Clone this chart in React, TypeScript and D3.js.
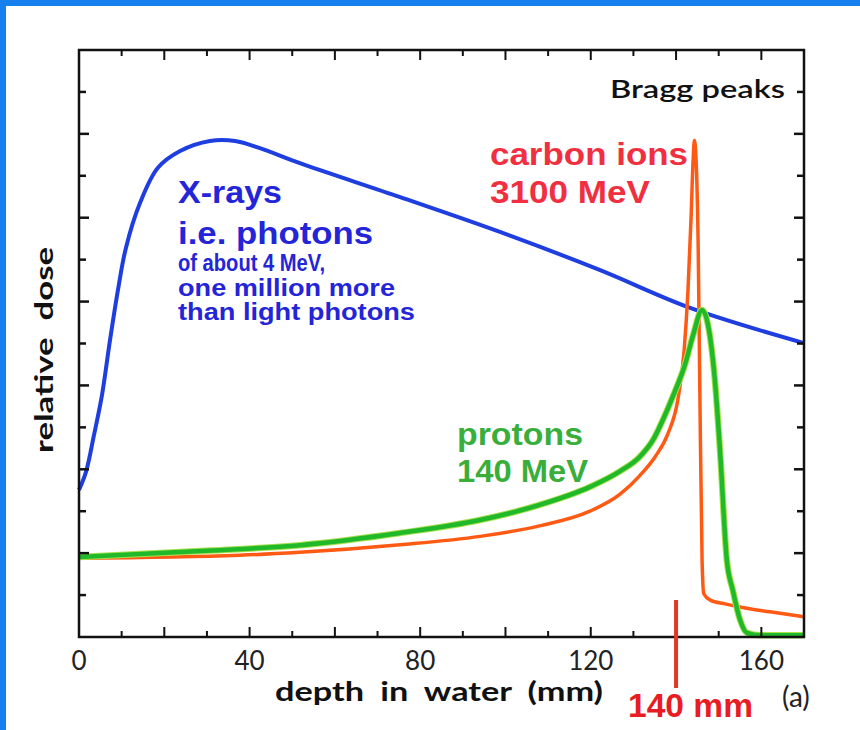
import React from "react";
import * as d3 from "d3";

// ---- data ----
const xrayDepth = [0, 1.64, 3.52, 5.39, 7.27, 9.14, 11.0, 14.3, 18.5, 23.7, 30.7, 36.6, 42.4, 51.8, 75.3, 98.7, 122.2, 143.3, 170];
const xrayDose = [3.51, 3.94, 4.82, 5.77, 7.08, 8.28, 9.28, 10.35, 11.19, 11.59, 11.83, 11.83, 11.66, 11.3, 10.49, 9.66, 8.75, 7.85, 7.01];

const protonDepth = [0, 28.6, 51.8, 75.3, 94, 108, 119.8, 126.8, 131.5, 134.6, 137, 139.3, 142.1, 144, 146.1, 147.5, 149.1, 150.3, 151.9, 153.3, 155, 156.6, 159.7, 170];
const protonDose = [1.91, 2.05, 2.19, 2.48, 2.79, 3.15, 3.58, 3.95, 4.3, 4.7, 5.2, 5.75, 6.5, 7.2, 7.8, 7.44, 6.13, 4.46, 1.84, 1.12, 0.41, 0.1, 0.04, 0.04];

const carbonDepth = [0, 37.7, 51.8, 75.3, 94, 108, 119.8, 126.8, 131.5, 135.1, 138.1, 140.4, 141.9, 142.8, 143.5, 144, 144.3, 144.7, 145.2, 145.6, 146.1, 146.5, 148, 151.5, 156.2, 162, 170];
const carbonDose = [1.88, 1.95, 2.02, 2.2, 2.4, 2.65, 3.0, 3.4, 3.85, 4.3, 4.85, 5.65, 6.84, 8.28, 9.95, 11.38, 11.85, 11.38, 9.23, 5.65, 1.84, 1.03, 0.88, 0.79, 0.69, 0.6, 0.48];

const xTickLabels = [0, 40, 80, 120, 160];
const xMinorTicks = d3.range(10, 170, 10);
const yTicks = d3.range(1, 14, 1);
const markerDepth = 140;

const W = 860;
const H = 730;
const left = 79;
const right = 804;
const top = 50;
const bottom = 637;

export default function App() {
  const x = d3.scaleLinear().domain([0, 170]).range([left, right]);
  const y = d3.scaleLinear().domain([0, 14]).range([bottom, top]);

  const line = (xs: number[], ys: number[], curve: d3.CurveFactory) =>
    d3
      .line<number>()
      .x((_, i) => x(xs[i]))
      .y((d) => y(d))
      .curve(curve)(ys) as string;

  const xray = line(xrayDepth, xrayDose, d3.curveCatmullRom.alpha(0.5));
  const proton = line(protonDepth, protonDose, d3.curveMonotoneX);
  const carbon = line(carbonDepth, carbonDose, d3.curveMonotoneX);

  const arial = "'Liberation Sans', Arial, sans-serif";
  const lato = "Lato, 'Open Sans', sans-serif";

  return (
    <svg width={W} height={H} style={{ position: "absolute", left: 0, top: 0 }}>
      <rect x={0} y={0} width={W} height={H} fill="#ffffff" />
      <rect x={0} y={0} width={W} height={6} fill="#1681ee" />
      <rect x={0} y={0} width={6} height={H} fill="#1681ee" />

      {/* curves */}
      <path d={xray} fill="none" stroke="#1f3ee0" strokeWidth={4} strokeLinejoin="round" />
      <path d={carbon} fill="none" stroke="#ff5a14" strokeWidth={3.5} strokeLinejoin="round" />
      <path d={proton} fill="none" stroke="#a8e050" strokeWidth={6.5} strokeLinejoin="round" />
      <path d={proton} fill="none" stroke="#1fb92a" strokeWidth={4.5} strokeLinejoin="round" />

      {/* frame */}
      <rect x={left} y={top} width={right - left} height={bottom - top} fill="none" stroke="#111" strokeWidth={2.5} />

      {/* x ticks bottom & top */}
      {xMinorTicks.map((t) => {
        const len = t % 20 === 0 ? 10 : 6;
        return (
          <g key={"xt" + t}>
            <line x1={x(t)} x2={x(t)} y1={bottom} y2={bottom - len} stroke="#111" strokeWidth={2} />
            <line x1={x(t)} x2={x(t)} y1={top} y2={top + len} stroke="#111" strokeWidth={2} />
          </g>
        );
      })}
      {/* y ticks left & right */}
      {yTicks.map((t) => {
        const len = t % 2 === 0 ? 10 : 7;
        return (
          <g key={"yt" + t}>
            <line x1={left} x2={left + len} y1={y(t)} y2={y(t)} stroke="#111" strokeWidth={2.5} />
            <line x1={right} x2={right - len} y1={y(t)} y2={y(t)} stroke="#111" strokeWidth={2.5} />
          </g>
        );
      })}

      {/* x tick labels */}
      {xTickLabels.map((t) => (
        <text key={"xl" + t} x={x(t)} y={670} textAnchor="middle" fontFamily={lato} fontSize={26} fill="#222">
          {t}
        </text>
      ))}

      {/* axis titles */}
      <text x={275} y={701} fontFamily={lato} fontWeight={700} fontSize={26} fill="#111" wordSpacing={6} textLength={328} lengthAdjust="spacingAndGlyphs">
        depth in water (mm)
      </text>
      <text
        transform="translate(53,350) rotate(-90)"
        textAnchor="middle"
        fontFamily={lato}
        fontWeight={700}
        fontSize={24}
        fill="#111"
        wordSpacing={6}
        textLength={206}
        lengthAdjust="spacingAndGlyphs"
      >
        relative dose
      </text>
      <text x={782} y={707} fontFamily={lato} fontSize={28} fill="#222">
        (a)
      </text>

      {/* 140 mm marker */}
      <line x1={x(markerDepth)} x2={x(markerDepth)} y1={600} y2={688} stroke="#e33424" strokeWidth={4} />
      <text x={628} y={717} fontFamily={arial} fontWeight={700} fontSize={34} fill="#e81c24" textLength={125} lengthAdjust="spacingAndGlyphs">
        140 mm
      </text>

      {/* annotations */}
      <text x={785} y={98} textAnchor="end" fontFamily={lato} fontWeight={600} fontSize={24} fill="#111" textLength={175} lengthAdjust="spacingAndGlyphs">
        Bragg peaks
      </text>

      <text x={490} y={165} fontFamily={arial} fontWeight={700} fontSize={31} fill="#f03040" textLength={198} lengthAdjust="spacingAndGlyphs">
        carbon ions
      </text>
      <text x={490} y={203} fontFamily={arial} fontWeight={700} fontSize={31} fill="#f03040" textLength={160} lengthAdjust="spacingAndGlyphs">
        3100 MeV
      </text>

      <text x={178} y={203} fontFamily={arial} fontWeight={700} fontSize={32} fill="#2424d8" textLength={104} lengthAdjust="spacingAndGlyphs">
        X-rays
      </text>
      <text x={178} y={244} fontFamily={arial} fontWeight={700} fontSize={32} fill="#2424d8" textLength={195} lengthAdjust="spacingAndGlyphs">
        i.e. photons
      </text>
      <text x={178} y={271} fontFamily={arial} fontWeight={700} fontSize={23} fill="#2424d8" textLength={147} lengthAdjust="spacingAndGlyphs">
        of about 4 MeV,
      </text>
      <text x={178} y={296} fontFamily={arial} fontWeight={700} fontSize={23} fill="#2424d8" textLength={217} lengthAdjust="spacingAndGlyphs">
        one million more
      </text>
      <text x={178} y={320} fontFamily={arial} fontWeight={700} fontSize={23} fill="#2424d8" textLength={237} lengthAdjust="spacingAndGlyphs">
        than light photons
      </text>

      <text x={457} y={445} fontFamily={arial} fontWeight={700} fontSize={31} fill="#3aae3a" textLength={126} lengthAdjust="spacingAndGlyphs">
        protons
      </text>
      <text x={457} y={482} fontFamily={arial} fontWeight={700} fontSize={31} fill="#3aae3a" textLength={131} lengthAdjust="spacingAndGlyphs">
        140 MeV
      </text>
    </svg>
  );
}
